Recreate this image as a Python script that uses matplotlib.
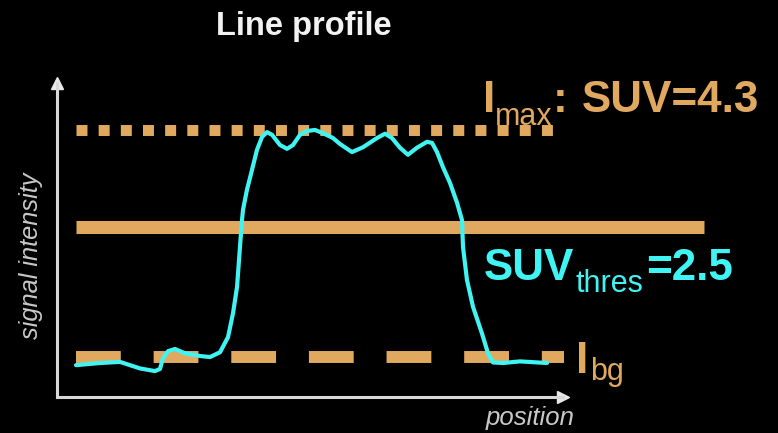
import matplotlib
matplotlib.use("Agg")
import matplotlib.pyplot as plt

# Line profile across a lesion (position in arbitrary units, signal in SUV)
position = [1.88, 4.25, 6.23, 8.20, 9.68, 10.18, 10.47, 10.97, 11.66, 12.65,
            14.13, 15.12, 16.11, 16.90, 17.39, 17.79, 18.08, 18.28, 18.38, 18.77,
            19.27, 19.76, 20.26, 20.75, 21.25, 22.04, 22.73, 23.32, 24.01, 24.70,
            25.49, 26.28, 27.27, 27.96, 29.15, 30.24, 31.62, 32.41, 33.10, 33.89,
            34.68, 35.57, 36.56, 37.06, 37.55, 38.14, 38.83, 39.53, 40.02, 40.12,
            40.51, 41.11, 41.99, 42.59, 43.08, 44.07, 45.75, 48.42]
signal = [-0.06, -0.02, 0.00, -0.12, -0.17, -0.13, 0.07, 0.20, 0.24, 0.16,
          0.11, 0.09, 0.18, 0.46, 0.90, 1.39, 2.13, 2.63, 2.82, 3.19,
          3.56, 3.93, 4.17, 4.26, 4.21, 4.02, 3.95, 4.02, 4.21, 4.28,
          4.30, 4.24, 4.15, 4.04, 3.89, 3.98, 4.15, 4.23, 4.15, 3.97,
          3.84, 3.97, 4.08, 4.06, 3.89, 3.61, 3.32, 2.95, 2.63, 2.13,
          1.52, 1.02, 0.53, 0.16, -0.01, -0.02, 0.01, -0.02]

# Reference levels (SUV)
suv_max = 4.3
suv_thres = 2.5
suv_bg = 0.1

# Horizontal extent of each level line (position units)
line_start = 1.88
max_end = 49.3
thres_end = 63.9
bg_end = 50.1

ORANGE = "#E1A95F"
CYAN = "#3FF4F2"
GREY = "#C8C8C8"
FONT = "Liberation Sans"

W, H = 778, 433
fig = plt.figure(figsize=(W / 100, H / 100), dpi=100, facecolor="black")
ax = fig.add_axes([57 / W, 1 - 397 / H, (563 - 57) / W, (397 - 83) / H])
ax.set_facecolor("black")
ax.set_xlim(0, 50)
ax.set_ylim(-0.65, 5.17)
ax.set_xticks([])
ax.set_yticks([])
for side in ("top", "right"):
    ax.spines[side].set_visible(False)
for side in ("left", "bottom"):
    ax.spines[side].set_color("#D8D8D8")
    ax.spines[side].set_linewidth(2.2)

# Arrowheads on the axes
ax.plot(1, 0, ">", color="#E8E8E8", markersize=9, transform=ax.transAxes, clip_on=False)
ax.plot(0, 1, "^", color="#E8E8E8", markersize=9, transform=ax.transAxes, clip_on=False)

# Level lines
ax.hlines(suv_max, line_start, max_end, color=ORANGE, lw=7.9,
          linestyles=[(0, (1.0, 1.02))], capstyle="butt", clip_on=False, zorder=2)
ax.hlines(suv_thres, line_start, thres_end, color=ORANGE, lw=9.4,
          capstyle="butt", clip_on=False, zorder=2)
ax.hlines(suv_bg, line_start, bg_end, color=ORANGE, lw=8.6,
          linestyles=[(0, (3.75, 2.75))], capstyle="butt", clip_on=False, zorder=2)

# Profile curve
ax.plot(position, signal, color=CYAN, lw=3.0, solid_joinstyle="round",
        solid_capstyle="round", clip_on=False, zorder=3)


def put(x, y, s, size, color, **kw):
    fig.text(x / W, 1 - y / H, s, fontsize=size, color=color, family=FONT,
             va="baseline", **kw)


# Title and axis labels
put(304, 35, "Line profile", 23.5, "#F2F2F2", ha="center", weight="bold")
put(530, 425, "position", 18.5, GREY, ha="center", style="italic")
fig.text(31 / W, 1 - 256 / H, "signal intensity", fontsize=18.3, color=GREY,
         family=FONT, style="italic", rotation=90, ha="center", va="center")

# Level annotations
put(483, 112, "I", 31.7, ORANGE, weight="bold")
put(495, 125, "max", 22, ORANGE)
put(553, 112, ":", 31.7, ORANGE, weight="bold")
put(582, 112, "SUV=4.3", 31.7, ORANGE, weight="bold")

put(484, 280, "SUV", 31.7, CYAN, weight="bold")
put(576, 292, "thres", 22, CYAN)
put(646, 280, "=2.5", 31.7, CYAN, weight="bold")

put(576, 373, "I", 31.7, ORANGE, weight="bold")
put(590, 380, "bg", 22, ORANGE)

fig.savefig("out.png", dpi=100, facecolor="black")
